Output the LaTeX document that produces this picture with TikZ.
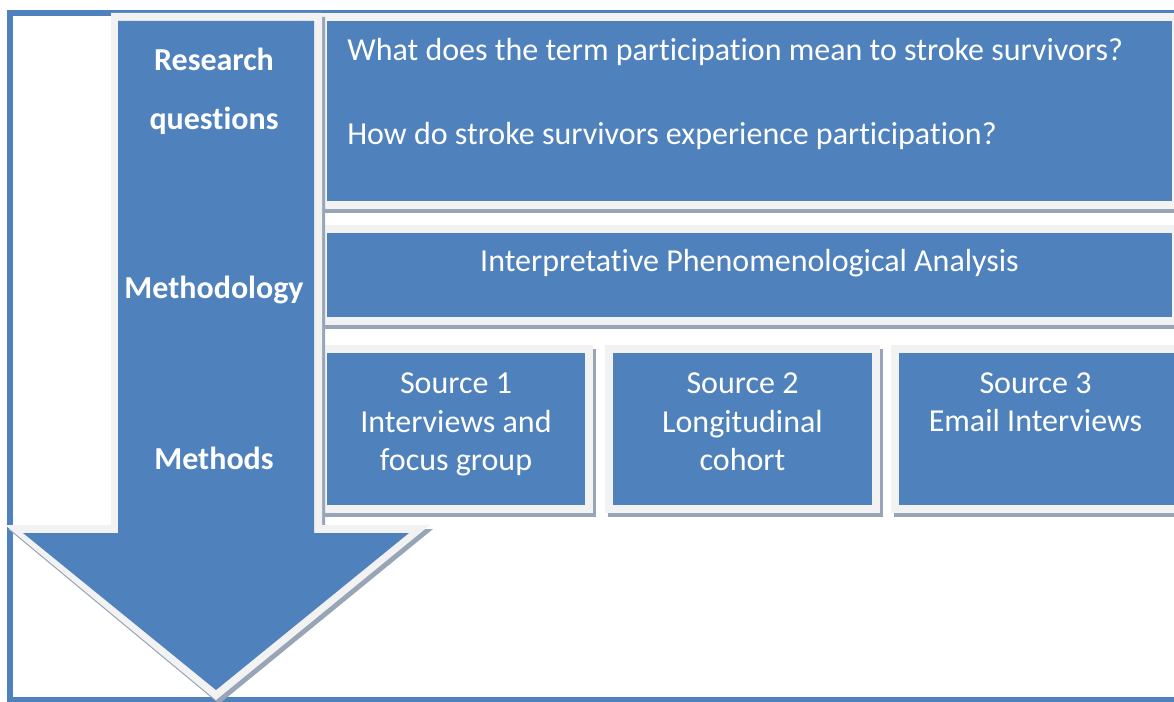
\documentclass[tikz,border=0pt]{standalone}
\usepackage{fontspec}
\setmainfont{Carlito}[Ligatures={NoCommon}]
\definecolor{ublue}{HTML}{4F81BD}
\definecolor{fgray}{HTML}{F2F2F2}
\definecolor{shc}{HTML}{98A5B6}
\newcommand\mypanel[4]{%
  \fill[shc] (#1-5,#2-4) rectangle (#3+11,#4+12);
  \fill[fgray] (#1-8,#2-8) rectangle (#3+8,#4+8);
  \fill[ublue] (#1,#2) rectangle (#3,#4);}
\begin{document}
\begin{tikzpicture}[x=0.75pt,y=-0.75pt,
  lbl/.style={text=white, inner sep=0pt, anchor=base, font=\fontsize{24pt}{28pt}\selectfont},
  blbl/.style={lbl, font=\fontsize{24pt}{28pt}\selectfont\bfseries}]
\clip (0,0) rectangle (1174,702);
\fill[white] (0,0) rectangle (1174,702);
% outer frame
\draw[ublue, line width=4.5pt] (10,13) rectangle (1190,700);
% panels
\mypanel{327}{21}{1172}{201}
\mypanel{327}{233}{1172}{317}
\mypanel{327}{353}{585}{505}
\mypanel{613}{353}{872}{505}
\mypanel{899}{353}{1180}{505}
% arrow
\fill[shc, shift={(3,4)}] (111,13) -- (322,13) -- (322,525) -- (430,525) -- (216,700) -- (5,525) -- (111,525) -- cycle;
\fill[fgray] (111,13) -- (322,13) -- (322,525) -- (430,525) -- (216,700) -- (5,525) -- (111,525) -- cycle;
\fill[ublue] (118,21) -- (314,21) -- (314,533) -- (409,533) -- (216,690) -- (23,533) -- (118,533) -- cycle;
% labels on the arrow
\node[blbl] (rq1) at (214,71) {Research};
\node[blbl] (rq2) at (214,130) {questions};
\node[blbl] (meth) at (214,299) {Methodology};
\node[blbl] (mtd) at (214,469) {Methods};
% panel texts
\node[lbl, anchor=base west] (q1) at (347,61) {What does the term participation mean to stroke survivors?};
\node[lbl, anchor=base west] (q2) at (347,145) {How do stroke survivors experience participation?};
\node[lbl] (ipa) at (749.5,272) {Interpretative Phenomenological Analysis};
\node[lbl] (s1a) at (456,393) {Source 1};
\node[lbl] (s1b) at (456,432) {Interviews and};
\node[lbl] (s1c) at (456,470) {focus group};
\node[lbl] (s2a) at (742.5,393) {Source 2};
\node[lbl] (s2b) at (742.5,432) {Longitudinal};
\node[lbl] (s2c) at (742.5,470) {cohort};
\node[lbl] (s3a) at (1035.5,393) {Source 3};
\node[lbl] (s3b) at (1035.5,431) {Email Interviews};
\end{tikzpicture}
\end{document}
